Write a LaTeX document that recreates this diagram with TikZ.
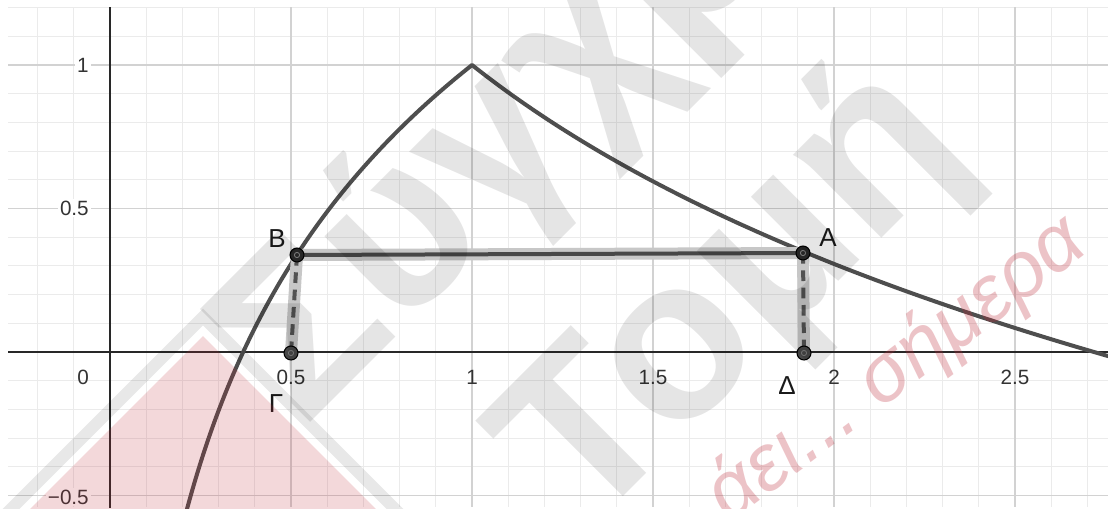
\documentclass[tikz,border=0pt]{standalone}
\usepackage{fontspec}
\setmainfont{Liberation Sans}
\definecolor{gridminor}{RGB}{235,235,235}
\definecolor{gridmajor}{RGB}{210,210,210}
\definecolor{axiscol}{RGB}{40,40,40}
\definecolor{curvecol}{RGB}{78,78,78}
\definecolor{labelc}{RGB}{51,51,51}
\definecolor{wmredcol}{RGB}{190,40,55}
\begin{document}
\begin{tikzpicture}[x=0.75pt,y=-0.75pt,
  minor/.style={gridminor, line width=0.75pt},
  major/.style={gridmajor, line width=1.1pt},
  axisline/.style={axiscol, line width=1.5pt},
  graph/.style={curvecol, line width=3pt, line join=round},
  halo/.style={black!22, line width=9pt},
  seg/.style={black!72, line width=3pt},
  dseg/.style={black!68, line width=3pt, dash pattern=on 8pt off 5pt},
  ptA/.style={circle, inner sep=0pt, minimum size=10.5pt, fill=black!85, draw=black, line width=0.8pt},
  ptG/.style={ptA, fill=black!72},
  tick/.style={font=\fontsize{15.5}{16}\selectfont, text=labelc, inner sep=1.5pt},
  ytick/.style={tick, anchor=east, fill=white},
  ptlabel/.style={font=\fontsize{19.5}{20}\selectfont, text=black!90, inner sep=0pt},
  wmtext/.style={rotate=45, anchor=base west, text=black, text opacity=0.1, inner sep=0pt, font=\fontsize{172}{172}\selectfont\bfseries},
  wmredtext/.style={rotate=37, text=wmredcol, text opacity=0.28, inner sep=0pt, font=\fontsize{60}{60}\selectfont\itshape},
]
\useasboundingbox (0,0) rectangle (1108,508);
\fill[white] (0,0) rectangle (1108,508);
% grid
\begin{scope}
\clip (8,7) rectangle (1108,506);
\foreach \k in {-2,...,27}{\draw[minor] ({110+36.2*\k},0) -- ({110+36.2*\k},510);}
\foreach \k in {-6,...,12}{\draw[minor] (0,{352-28.7*\k}) -- (1110,{352-28.7*\k});}
\foreach \k in {-1,...,5}{\draw[major] ({110+181*\k},0) -- ({110+181*\k},510);}
\foreach \k in {-1,...,2}{\draw[major] (0,{352-143.5*\k}) -- (1110,{352-143.5*\k});}
\end{scope}
% axes
\coordinate (xs) at (8,352);
\coordinate (xe) at (1108,352);
\coordinate (ys) at (110,7);
\coordinate (ye) at (110,508);
\draw[axisline] (xs) -- (xe);
\draw[axisline] (ys) -- (ye);
% tick labels
\node[tick] (t0) at (83,377) {0};
\node[tick] (t05) at (291,377) {0.5};
\node[tick] (t1) at (472,377) {1};
\node[tick] (t15) at (653,377) {1.5};
\node[tick] (t2) at (834,377) {2};
\node[tick] (t25) at (1015,377) {2.5};
\node[ytick] (y1) at (91,65) {1};
\node[ytick] (y05) at (91,208) {0.5};
\node[ytick] (ym05) at (91,497) {−0.5};
% graph
\begin{scope}
\clip (8,7) rectangle (1108,508);
\draw[graph] plot[domain=0.205:1, samples=120, smooth] ({110+362*\x},{352-287*(1+ln(\x))})
  -- plot[domain=1:2.77, samples=120, smooth] ({110+362*\x},{352-287*(1-ln(\x))});
\end{scope}
% points and segments
\coordinate (A) at (803,253);
\coordinate (B) at (297,255);
\coordinate (G) at (291,353);
\coordinate (D) at (804,353);
\draw[halo] (B) -- (A);
\draw[halo] (B) -- (G);
\draw[halo] (A) -- (D);
\draw[seg] (B) -- (A);
\draw[dseg] (B) -- (G);
\draw[dseg] (A) -- (D);
\node[ptA] (Apt) at (A) {};
\node[ptA] (Bpt) at (B) {};
\node[ptG] (Gpt) at (G) {};
\node[ptG] (Dpt) at (D) {};
\foreach \p in {A,B,G,D}{\draw[black!50, line width=0.6pt] (\p) circle (2.6);}
\node[ptlabel] (Alab) at (828,238) {A};
\node[ptlabel] (Blab) at (277,239) {B};
\node[ptlabel] (Glab) at (276,404) {Γ};
\node[ptlabel] (Dlab) at (787,386) {Δ};
% watermark
\begin{scope}
\clip (0,0) rectangle (1108,508);
\fill[wmredcol, opacity=0.18] (203,336) -- (403,536) -- (3,536) -- cycle;
\draw[black, opacity=0.09, line width=9pt] (-47,567) -- (203,317) -- (453,567);
\node[wmtext] (wm1) at (303,430) {Σύγχρονη};
\node[wmtext] (wm2) at (585,535) {Τομή};
\node[wmredtext, anchor=base west] (wm3) at (880,410) {σήμερα};
\node[wmredtext, anchor=base east] (wm4) at (862,424) {άει...};
\end{scope}
\end{tikzpicture}
\end{document}
